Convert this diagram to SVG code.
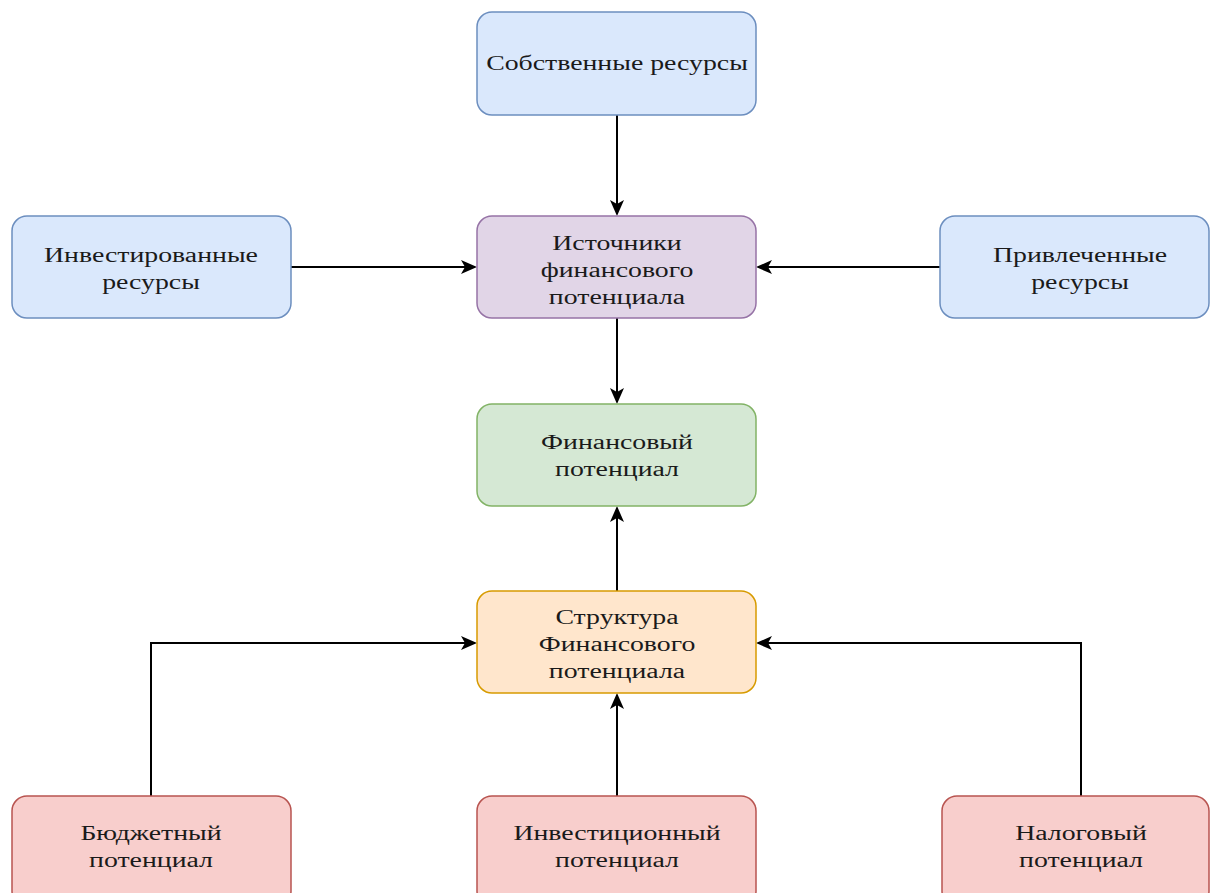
<svg xmlns="http://www.w3.org/2000/svg" width="1211" height="893" viewBox="0 0 1211 893">
<defs>
<marker id="ah" markerWidth="16" markerHeight="14" refX="14" refY="7" orient="auto" markerUnits="userSpaceOnUse">
<path d="M0,0 L16,7 L0,14 L4,7 Z" fill="#000"/>
</marker>
<style>
.n{stroke-width:1.5}
.blue{fill:#dae8fc;stroke:#6c8ebf}
.purple{fill:#e1d5e7;stroke:#9673a6}
.green{fill:#d5e8d4;stroke:#82b366}
.orange{fill:#ffe6cc;stroke:#d79b00}
.red{fill:#f8cecc;stroke:#b85450}
text{font-family:"Liberation Serif","Times New Roman",serif;font-size:20px;fill:#1a1a1a;text-anchor:middle}
.c{fill:none;stroke:#000;stroke-width:2;marker-end:url(#ah)}
</style>
</defs>
<rect width="1211" height="893" fill="#fff"/>
<g id="connectors">
<path class="c" d="M617,115 L617,214"/>
<path class="c" d="M291,267 L475,267"/>
<path class="c" d="M940,267 L758,267"/>
<path class="c" d="M617,318 L617,402"/>
<path class="c" d="M617,591 L617,508"/>
<path class="c" d="M151,796 L151,643 L475,643"/>
<path class="c" d="M617,796 L617,695"/>
<path class="c" d="M1081,796 L1081,643 L758,643"/>
</g>
<g id="sobstv">
<rect class="n blue" x="477" y="12" width="279" height="103" rx="15"/>
<text transform="matrix(1.39 0 0 1 617 0)" x="0" y="70">Собственные ресурсы</text>
</g>
<g id="invest_res">
<rect class="n blue" x="12" y="216" width="279" height="102" rx="15"/>
<text transform="matrix(1.39 0 0 1 151 0)" x="0" y="262">Инвестированные</text>
<text transform="matrix(1.39 0 0 1 151 0)" x="0" y="289">ресурсы</text>
</g>
<g id="istochniki">
<rect class="n purple" x="477" y="216" width="279" height="102" rx="15"/>
<text transform="matrix(1.39 0 0 1 617 0)" x="0" y="250">Источники</text>
<text transform="matrix(1.39 0 0 1 617 0)" x="0" y="277">финансового</text>
<text transform="matrix(1.39 0 0 1 617 0)" x="0" y="304">потенциала</text>
</g>
<g id="privlech">
<rect class="n blue" x="940" y="216" width="269" height="102" rx="15"/>
<text transform="matrix(1.39 0 0 1 1080 0)" x="0" y="262">Привлеченные</text>
<text transform="matrix(1.39 0 0 1 1080 0)" x="0" y="289">ресурсы</text>
</g>
<g id="fin_pot">
<rect class="n green" x="477" y="404" width="279" height="102" rx="15"/>
<text transform="matrix(1.39 0 0 1 617 0)" x="0" y="449">Финансовый</text>
<text transform="matrix(1.39 0 0 1 617 0)" x="0" y="476">потенциал</text>
</g>
<g id="struktura">
<rect class="n orange" x="477" y="591" width="279" height="102" rx="15"/>
<text transform="matrix(1.39 0 0 1 617 0)" x="0" y="624">Структура</text>
<text transform="matrix(1.39 0 0 1 617 0)" x="0" y="651">Финансового</text>
<text transform="matrix(1.39 0 0 1 617 0)" x="0" y="678">потенциала</text>
</g>
<g id="budzhet">
<rect class="n red" x="12" y="796" width="279" height="110" rx="15"/>
<text transform="matrix(1.39 0 0 1 151 0)" x="0" y="840">Бюджетный</text>
<text transform="matrix(1.39 0 0 1 151 0)" x="0" y="867">потенциал</text>
</g>
<g id="investic">
<rect class="n red" x="477" y="796" width="279" height="110" rx="15"/>
<text transform="matrix(1.39 0 0 1 617 0)" x="0" y="840">Инвестиционный</text>
<text transform="matrix(1.39 0 0 1 617 0)" x="0" y="867">потенциал</text>
</g>
<g id="nalog">
<rect class="n red" x="942" y="796" width="267" height="110" rx="15"/>
<text transform="matrix(1.39 0 0 1 1081 0)" x="0" y="840">Налоговый</text>
<text transform="matrix(1.39 0 0 1 1081 0)" x="0" y="867">потенциал</text>
</g>
</svg>
